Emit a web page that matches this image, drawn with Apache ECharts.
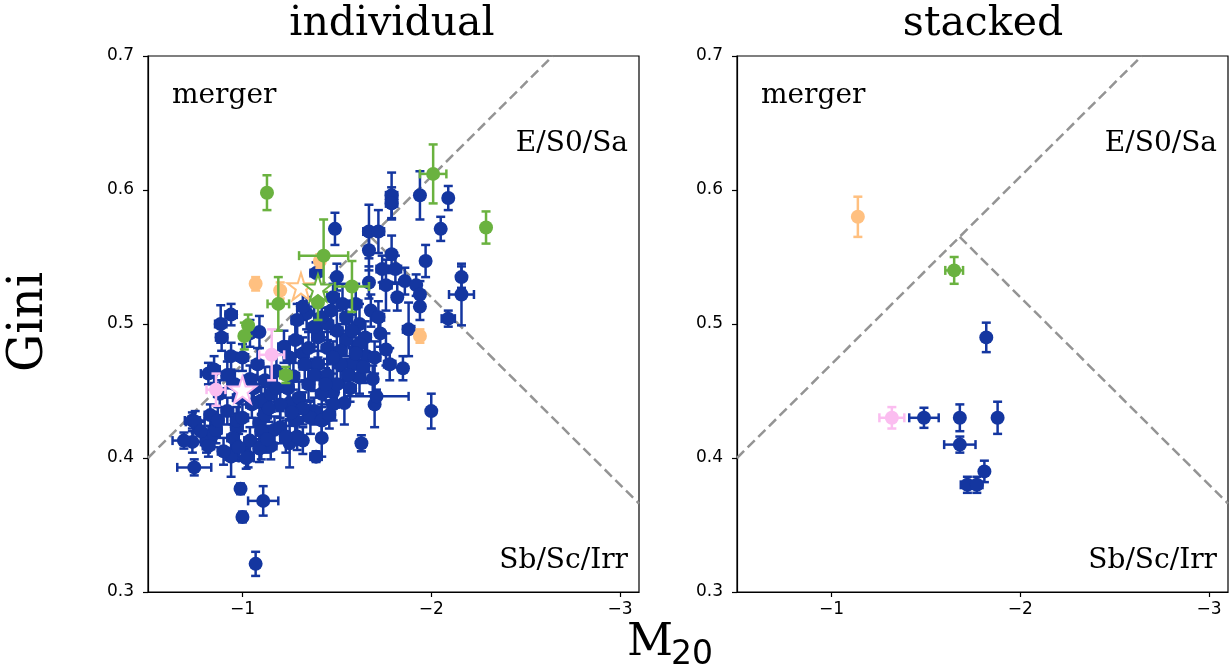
<!DOCTYPE html>
<html>
<head>
<meta charset="utf-8">
<script src="https://cdn.jsdelivr.net/npm/echarts@6/dist/echarts.min.js"></script>
<style>
  html, body { margin: 0; padding: 0; background: #fff; }
  #chart { width: 1230px; height: 671px; }
</style>
</head>
<body>
<div id="chart"></div>
<script>
// [M20, Gini, xerr, yerr]
var blueInd = [
  [-1.79,0.596,0.03,0.017],[-1.79,0.590,0.03,0.012],[-1.94,0.596,0.02,0.018],[-2.09,0.594,0.02,0.009],
  [-2.05,0.571,0.02,0.009],[-1.49,0.571,0.02,0.012],[-1.67,0.569,0.03,0.020],[-1.72,0.569,0.03,0.016],
  [-1.67,0.555,0.02,0.015],[-1.79,0.552,0.02,0.014],[-1.97,0.547,0.02,0.012],[-2.16,0.535,0.02,0.008],
  [-2.16,0.522,0.066,0.023],[-2.09,0.504,0.035,0.006],[-1.39,0.538,0.03,0.008],[-1.50,0.535,0.02,0.010],
  [-1.74,0.541,0.03,0.010],[-1.81,0.541,0.03,0.010],[-1.76,0.529,0.03,0.019],[-1.86,0.532,0.02,0.010],
  [-1.92,0.529,0.02,0.008],[-1.94,0.522,0.02,0.010],[-1.94,0.513,0.02,0.010],[-1.82,0.520,0.02,0.010],
  [-1.67,0.531,0.02,0.012],[-1.88,0.496,0.03,0.020],[-1.85,0.467,0.02,0.009],[-2.00,0.435,0.02,0.013],
  [-1.63,0.411,0.02,0.006],[-1.39,0.401,0.03,0.004],[-1.42,0.415,0.02,0.014],[-1.70,0.440,0.02,0.017],
  [-1.71,0.446,0.17,0.005],[-1.54,0.441,0.02,0.016],[-1.48,0.449,0.02,0.010],[-1.34,0.508,0.02,0.012],
  [-1.09,0.494,0.02,0.012],[-0.885,0.500,0.03,0.014],[-0.94,0.507,0.03,0.008],[-0.94,0.476,0.03,0.010],
  [-0.82,0.463,0.04,0.008],[-0.745,0.393,0.09,0.006],[-0.735,0.412,0.06,0.008],[-0.735,0.428,0.04,0.006],
  [-0.81,0.412,0.03,0.008],[-0.94,0.401,0.03,0.015],[-0.99,0.377,0.02,0.004],[-1.00,0.356,0.02,0.004],
  [-1.11,0.368,0.08,0.011],[-1.07,0.321,0.02,0.009],[-1.03,0.401,0.02,0.008],[-1.25,0.411,0.02,0.018],
  [-1.32,0.413,0.02,0.010],[-1.17,0.421,0.02,0.010],[-1.10,0.409,0.02,0.010],[-1.76,0.481,0.02,0.012],
  [-1.66,0.476,0.02,0.012],[-1.73,0.493,0.02,0.010],[-1.62,0.500,0.02,0.015],[-1.68,0.510,0.02,0.012],
  [-1.69,0.459,0.02,0.010],[-0.89,0.490,0.03,0.010],[-0.85,0.466,0.03,0.010],[-0.83,0.432,0.03,0.008],
  [-0.75,0.427,0.05,0.008],[-0.69,0.413,0.06,0.006],[-0.85,0.418,0.03,0.010],[-0.97,0.423,0.03,0.010],
  [-1.09,0.426,0.03,0.012],[-1.20,0.423,0.03,0.012],[-1.04,0.413,0.03,0.010],[-1.29,0.416,0.03,0.010],
  [-1.15,0.409,0.03,0.010],[-1.25,0.441,0.03,0.012],[-1.10,0.443,0.03,0.010],[-1.04,0.459,0.03,0.010],
  [-1.15,0.456,0.03,0.012],[-1.27,0.461,0.03,0.010],[-1.32,0.478,0.03,0.012],[-1.22,0.483,0.03,0.012],
  [-1.04,0.493,0.03,0.010],[-1.29,0.503,0.03,0.012],[-1.32,0.513,0.03,0.010],[-0.82,0.409,0.03,0.008],
  [-1.02,0.400,0.04,0.008],[-1.09,0.407,0.03,0.010],[-1.23,0.416,0.03,0.012],[-0.97,0.428,0.03,0.010],
  [-0.86,0.421,0.03,0.010],[-1.40,0.490,0.03,0.015],[-1.45,0.482,0.03,0.012],[-1.50,0.495,0.03,0.015],
  [-1.55,0.488,0.03,0.012],[-1.58,0.470,0.03,0.012],[-1.52,0.470,0.04,0.012],[-1.45,0.462,0.03,0.012],
  [-1.40,0.470,0.03,0.010],[-1.35,0.455,0.03,0.012],[-1.42,0.448,0.03,0.010],[-1.48,0.440,0.03,0.012],
  [-1.38,0.435,0.03,0.010],[-1.30,0.445,0.03,0.012],[-1.20,0.440,0.03,0.010],[-1.12,0.432,0.03,0.010],
  [-1.05,0.440,0.03,0.010],[-0.98,0.445,0.03,0.012],[-0.92,0.435,0.03,0.010],[-0.88,0.448,0.03,0.010],
  [-1.18,0.465,0.03,0.012],[-1.25,0.475,0.03,0.012],[-1.35,0.482,0.03,0.012],[-1.55,0.505,0.03,0.012],
  [-1.60,0.515,0.03,0.015],[-1.48,0.520,0.03,0.010],[-1.62,0.460,0.03,0.012],[-1.57,0.452,0.03,0.010],
  [-1.36,0.430,0.03,0.012],[-1.28,0.428,0.03,0.010],[-1.10,0.420,0.03,0.012],[-0.95,0.415,0.03,0.010],
  [-0.90,0.405,0.03,0.010],[-1.00,0.430,0.03,0.010],[-1.15,0.448,0.03,0.012],[-1.08,0.470,0.03,0.012],
  [-1.00,0.475,0.03,0.010],[-1.45,0.500,0.03,0.012],[-1.65,0.490,0.03,0.012],[-1.70,0.475,0.03,0.012],
  [-1.78,0.470,0.03,0.012],[-1.72,0.505,0.03,0.012],
  [-1.42,0.505,0.03,0.015],[-1.47,0.510,0.03,0.012],[-1.53,0.515,0.03,0.015],[-1.58,0.495,0.03,0.012],
  [-1.62,0.485,0.03,0.012],[-1.52,0.480,0.03,0.015],[-1.48,0.475,0.03,0.012],[-1.56,0.462,0.03,0.012],
  [-1.50,0.455,0.03,0.012],[-1.44,0.455,0.03,0.012],[-1.38,0.462,0.03,0.012],[-1.33,0.470,0.03,0.012],
  [-1.28,0.488,0.03,0.012],[-1.38,0.498,0.03,0.015],[-1.60,0.478,0.03,0.012],[-1.64,0.468,0.03,0.012],
  [-1.32,0.437,0.03,0.012],[-1.24,0.452,0.03,0.012],[-1.18,0.452,0.03,0.010],[-1.12,0.458,0.03,0.010],
  [-1.06,0.452,0.03,0.010],[-0.96,0.455,0.03,0.010],[-0.92,0.462,0.03,0.010],[-1.14,0.437,0.03,0.010],
  [-1.26,0.434,0.03,0.010],[-0.78,0.420,0.04,0.008],[-0.87,0.428,0.03,0.010],[-0.98,0.408,0.03,0.010],
  [-1.13,0.414,0.03,0.010],[-1.42,0.428,0.03,0.012],[-1.46,0.432,0.03,0.010]
];
var orangeInd = [[-1.07,0.530,0,0.005],[-1.20,0.525,0,0.006],[-1.41,0.547,0,0.005],[-1.94,0.491,0,0.005]];
var greenInd = [
  [-1.13,0.598,0,0.013],[-2.01,0.612,0.07,0.022],[-2.29,0.572,0,0.012],[-1.43,0.551,0.13,0.027],
  [-1.58,0.528,0.09,0.019],[-1.19,0.515,0.057,0.02],[-1.40,0.516,0.02,0.013],[-1.03,0.499,0,0.008],
  [-1.01,0.491,0,0.010],[-1.23,0.462,0.03,0.006]
];
var pinkInd = [[-1.155,0.477,0.066,0.019],[-0.86,0.451,0.05,0.012]];
var starOrangeInd = [[-1.31,0.528]];
var starGreenInd = [[-1.40,0.527]];
var starPinkInd = [[-1.00,0.451]];

var blueStk = [
  [-1.82,0.490,0,0.011],[-1.49,0.430,0.078,0.0075],[-1.68,0.430,0,0.010],[-1.88,0.430,0,0.012],
  [-1.68,0.410,0.083,0.006],[-1.81,0.390,0,0.008],[-1.72,0.380,0.035,0.006],[-1.77,0.380,0.03,0.006]
];
var greenStk = [[-1.65,0.540,0.047,0.010]];
var orangeStk = [[-1.14,0.580,0,0.015]];
var pinkStk = [[-1.32,0.430,0.066,0.008]];

// Lotz et al. classification lines
var mergerLine = [[-0.5,0.40],[-2.643,0.70]];
var classLine = [[-1.679,0.565],[-3.1,0.366]];

var xTicks = [-3,-2,-1];
var BLUE = '#1436a0', GREEN = '#6ab23f', ORANGE = '#ffc080', PINK = '#fbbdf0';
var STAR = 'path://M50,0 L61.2,34.5 L97.6,34.5 L68.2,55.9 L79.4,90.5 L50,69.1 L20.6,90.5 L31.8,55.9 L2.4,34.5 L38.8,34.5 Z';

function errRender(color){
  return function(params, api){
    var x = api.value(0), y = api.value(1), xe = api.value(2), ye = api.value(3);
    var st = {stroke: color, lineWidth: 2.5};
    var cap = 4.5;
    var kids = [];
    if (ye > 0) {
      var t = api.coord([x, y + ye]), b = api.coord([x, y - ye]);
      kids.push({type:'line', shape:{x1:t[0],y1:t[1],x2:b[0],y2:b[1]}, style:st});
      kids.push({type:'line', shape:{x1:t[0]-cap,y1:t[1],x2:t[0]+cap,y2:t[1]}, style:st});
      kids.push({type:'line', shape:{x1:b[0]-cap,y1:b[1],x2:b[0]+cap,y2:b[1]}, style:st});
    }
    if (xe > 0) {
      var l = api.coord([x - xe, y]), r = api.coord([x + xe, y]);
      kids.push({type:'line', shape:{x1:l[0],y1:l[1],x2:r[0],y2:r[1]}, style:st});
      kids.push({type:'line', shape:{x1:l[0],y1:l[1]-cap,x2:l[0],y2:l[1]+cap}, style:st});
      kids.push({type:'line', shape:{x1:r[0],y1:r[1]-cap,x2:r[0],y2:r[1]+cap}, style:st});
    }
    return {type:'group', children:kids};
  };
}

function pointSet(data, color, idx, z){
  return [
    {type:'custom', xAxisIndex:idx, yAxisIndex:idx, renderItem:errRender(color), data:data, z:z, silent:true},
    {type:'scatter', xAxisIndex:idx, yAxisIndex:idx, symbol:'circle', symbolSize:14, z:z+0.5, silent:true,
     itemStyle:{color:color, opacity:1}, data:data.map(function(d){ return [d[0], d[1]]; })}
  ];
}
function starSet(data, color, idx){
  return {type:'scatter', xAxisIndex:idx, yAxisIndex:idx, symbol:STAR, symbolSize:27, z:20, silent:true,
    itemStyle:{color:'#ffffff', borderColor:color, borderWidth:2, opacity:1}, data:data};
}
function dashLine(data, idx){
  return {type:'line', xAxisIndex:idx, yAxisIndex:idx, data:data, showSymbol:false, silent:true, z:1,
    lineStyle:{color:'#949494', width:2.5, type:[10,5]}};
}

function xAx(idx){
  return {gridIndex:idx, type:'value', min:-3.1, max:-0.5, inverse:true,
    axisLine:{show:true, onZero:false, lineStyle:{color:'#000', width:1.2}},
    axisTick:{show:true, customValues:xTicks, length:5, lineStyle:{color:'#000', width:1.2}},
    axisLabel:{customValues:xTicks, margin:9, color:'#000', fontFamily:'DejaVu Sans', fontSize:17,
      formatter:function(v){ return '\u2212' + Math.abs(v); }},
    splitLine:{show:false}};
}
function yAx(idx){
  return {gridIndex:idx, type:'value', min:0.3, max:0.7, interval:0.1,
    axisLine:{show:true, onZero:false, lineStyle:{color:'#000', width:1.2}},
    axisTick:{show:true, length:5, lineStyle:{color:'#000', width:1.2}},
    axisLabel:{margin:14, color:'#000', fontFamily:'DejaVu Sans', fontSize:17,
      formatter:function(v){ return v.toFixed(1); }},
    splitLine:{show:false}};
}

var serif = 'DejaVu Serif';
function txt(x, y, s, size, align, extra){
  var o = {type:'text', x:x, y:y, style:{text:s, font:size + 'px "' + serif + '"', fill:'#000',
    align:align, verticalAlign:'middle'}, silent:true};
  if (extra) { for (var k in extra) o[k] = extra[k]; }
  return o;
}

var chart = echarts.init(document.getElementById('chart'), null, {renderer:'canvas'});
var series = [].concat(
  dashLine(mergerLine, 0), dashLine(classLine, 0),
  pointSet(blueInd, BLUE, 0, 2), pointSet(orangeInd, ORANGE, 0, 4),
  pointSet(greenInd, GREEN, 0, 6), pointSet(pinkInd, PINK, 0, 8),
  starSet(starOrangeInd, ORANGE, 0), starSet(starGreenInd, GREEN, 0), starSet(starPinkInd, PINK, 0),
  dashLine(mergerLine, 1), dashLine(classLine, 1),
  pointSet(blueStk, BLUE, 1, 2), pointSet(orangeStk, ORANGE, 1, 4),
  pointSet(greenStk, GREEN, 1, 6), pointSet(pinkStk, PINK, 1, 8)
);

chart.setOption({
  animation:false,
  backgroundColor:'#fff',
  grid:[
    {left:148, top:56, width:491, height:536, show:true, borderColor:'#000', borderWidth:1.2},
    {left:737, top:56, width:491, height:536, show:true, borderColor:'#000', borderWidth:1.2}
  ],
  xAxis:[xAx(0), xAx(1)],
  yAxis:[yAx(0), yAx(1)],
  series:series,
  graphic:[
    txt(392, 24, 'individual', 41, 'center'),
    txt(983, 24, 'stacked', 41, 'center'),
    txt(172, 96, 'merger', 28, 'left'),
    txt(628, 144, 'E/S0/Sa', 28, 'right'),
    txt(628, 561, 'Sb/Sc/Irr', 28, 'right'),
    txt(761, 96, 'merger', 28, 'left'),
    txt(1217, 144, 'E/S0/Sa', 28, 'right'),
    txt(1217, 561, 'Sb/Sc/Irr', 28, 'right'),
    txt(30, 322, 'Gini', 48, 'center', {rotation:Math.PI/2}),
    txt(627, 643, 'M', 45, 'left'),
    {type:'text', x:671, y:655, silent:true,
      style:{text:'20', font:'33px "DejaVu Sans"', fill:'#000', align:'left', verticalAlign:'middle'}}
  ]
});
</script>
</body>
</html>
